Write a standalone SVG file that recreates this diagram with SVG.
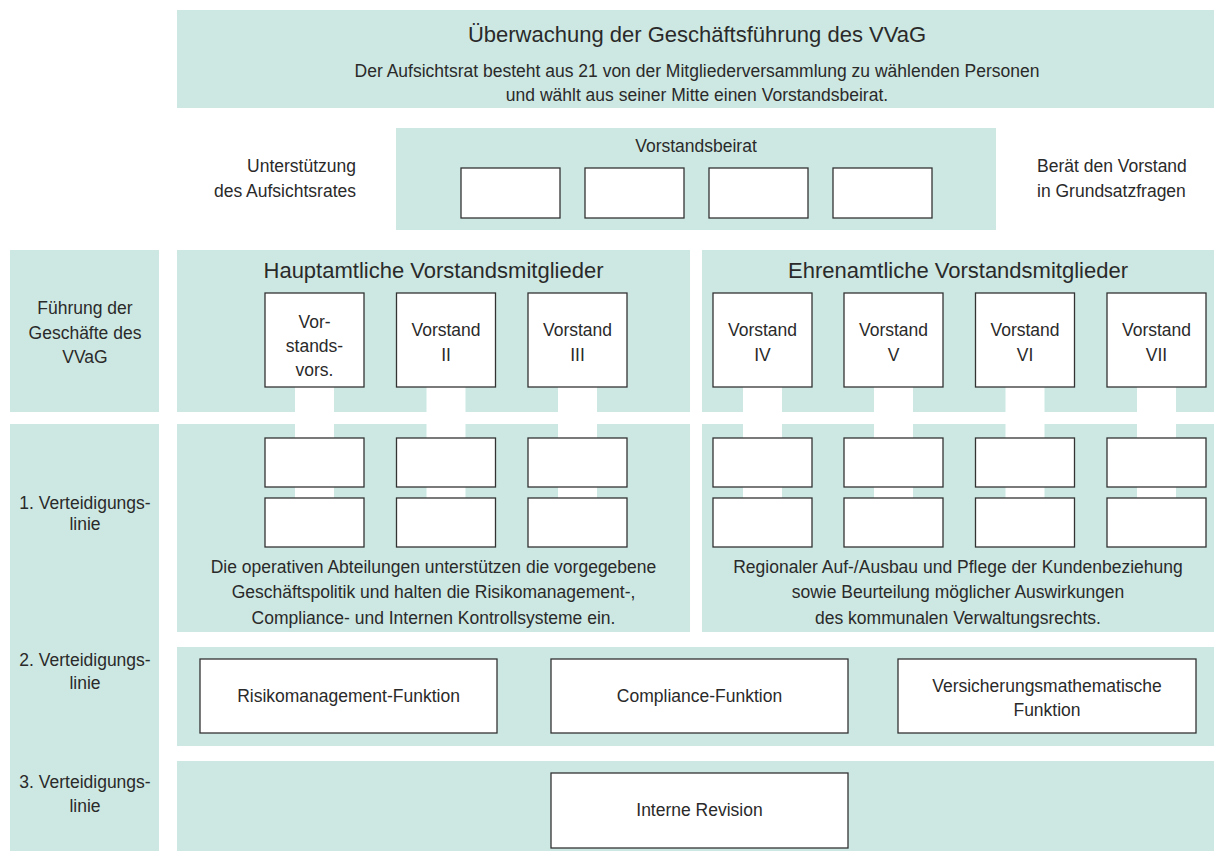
<svg xmlns="http://www.w3.org/2000/svg" width="1214" height="851" viewBox="0 0 1214 851">
<style>
.bg{fill:#cde8e2}
.bx{fill:#fff;stroke:#333;stroke-width:1.3}
.cn{fill:#fff}
text{font-family:"Liberation Sans",Arial,sans-serif;fill:#2a2a2a;text-anchor:middle}
.t1{font-size:22px}
.t2{font-size:17.5px}
.l{text-anchor:end}
.r{text-anchor:start}
</style>
<rect width="1214" height="851" fill="#fff"/>
<g id="panels">
<rect class="bg" x="177" y="10" width="1037" height="98"/>
<rect class="bg" x="396" y="128" width="600" height="102"/>
<rect class="bg" x="10" y="250" width="149" height="162"/>
<rect class="bg" x="177" y="250" width="513" height="162"/>
<rect class="bg" x="702" y="250" width="512" height="162"/>
<rect class="bg" x="10" y="424" width="149" height="427"/>
<rect class="bg" x="177" y="424" width="513" height="208"/>
<rect class="bg" x="702" y="424" width="512" height="208"/>
<rect class="bg" x="177" y="647" width="1037" height="99"/>
<rect class="bg" x="177" y="761" width="1037" height="90"/>
</g>
<g id="connectors">
<rect class="cn" x="295" y="387" width="39" height="111"/>
<rect class="cn" x="426.5" y="387" width="39" height="111"/>
<rect class="cn" x="558" y="387" width="39" height="111"/>
<rect class="cn" x="743" y="387" width="39" height="111"/>
<rect class="cn" x="874" y="387" width="39" height="111"/>
<rect class="cn" x="1005.5" y="387" width="39" height="111"/>
<rect class="cn" x="1137" y="387" width="39" height="111"/>
</g>
<g id="header">
<text class="t1" x="697" y="42">Überwachung der Geschäftsführung des VVaG</text>
<text class="t2" x="697" y="77">Der Aufsichtsrat besteht aus 21 von der Mitgliederversammlung zu wählenden Personen</text>
<text class="t2" x="697" y="101">und wählt aus seiner Mitte einen Vorstandsbeirat.</text>
</g>
<g id="label-unterstuetzung">
<text class="t2 l" x="356" y="172">Unterstützung</text>
<text class="t2 l" x="356" y="197">des Aufsichtsrates</text>
</g>
<g id="label-beraet">
<text class="t2 r" x="1037" y="172">Berät den Vorstand</text>
<text class="t2 r" x="1037" y="197">in Grundsatzfragen</text>
</g>
<g id="vorstandsbeirat">
<text class="t2" x="696" y="152">Vorstandsbeirat</text>
<rect class="bx" x="461" y="168" width="99" height="50"/>
<rect class="bx" x="585" y="168" width="99" height="50"/>
<rect class="bx" x="709" y="168" width="99" height="50"/>
<rect class="bx" x="833" y="168" width="99" height="50"/>
</g>
<g id="label-fuehrung">
<text class="t2" x="85" y="314">Führung der</text>
<text class="t2" x="85" y="339">Geschäfte des</text>
<text class="t2" x="85" y="363">VVaG</text>
</g>
<g id="hauptamtliche">
<text class="t1" x="433.5" y="278">Hauptamtliche Vorstandsmitglieder</text>
</g>
<g id="ehrenamtliche">
<text class="t1" x="958" y="278">Ehrenamtliche Vorstandsmitglieder</text>
</g>
<g id="vorstand-1">
<rect class="bx" x="265" y="293" width="99" height="94"/>
<text class="t2" x="314.5" y="328">Vor-</text>
<text class="t2" x="314.5" y="352">stands-</text>
<text class="t2" x="314.5" y="376">vors.</text>
</g>
<g id="vorstand-2">
<rect class="bx" x="396.5" y="293" width="99" height="94"/>
<text class="t2" x="446" y="336">Vorstand</text>
<text class="t2" x="446" y="361">II</text>
</g>
<g id="vorstand-3">
<rect class="bx" x="528" y="293" width="99" height="94"/>
<text class="t2" x="577.5" y="336">Vorstand</text>
<text class="t2" x="577.5" y="361">III</text>
</g>
<g id="vorstand-4">
<rect class="bx" x="713" y="293" width="99" height="94"/>
<text class="t2" x="762.5" y="336">Vorstand</text>
<text class="t2" x="762.5" y="361">IV</text>
</g>
<g id="vorstand-5">
<rect class="bx" x="844" y="293" width="99" height="94"/>
<text class="t2" x="893.5" y="336">Vorstand</text>
<text class="t2" x="893.5" y="361">V</text>
</g>
<g id="vorstand-6">
<rect class="bx" x="975.5" y="293" width="99" height="94"/>
<text class="t2" x="1025" y="336">Vorstand</text>
<text class="t2" x="1025" y="361">VI</text>
</g>
<g id="vorstand-7">
<rect class="bx" x="1107" y="293" width="99" height="94"/>
<text class="t2" x="1156.5" y="336">Vorstand</text>
<text class="t2" x="1156.5" y="361">VII</text>
</g>
<g id="label-linie1">
<text class="t2" x="85" y="509">1. Verteidigungs-</text>
<text class="t2" x="85" y="530">linie</text>
</g>
<g id="abteilungen-haupt">
<rect class="bx" x="265" y="438" width="99" height="49"/>
<rect class="bx" x="396.5" y="438" width="99" height="49"/>
<rect class="bx" x="528" y="438" width="99" height="49"/>
<rect class="bx" x="265" y="498" width="99" height="49"/>
<rect class="bx" x="396.5" y="498" width="99" height="49"/>
<rect class="bx" x="528" y="498" width="99" height="49"/>
<text class="t2" x="433.5" y="573">Die operativen Abteilungen unterstützen die vorgegebene</text>
<text class="t2" x="433.5" y="598">Geschäftspolitik und halten die Risikomanagement-,</text>
<text class="t2" x="433.5" y="624">Compliance- und Internen Kontrollsysteme ein.</text>
</g>
<g id="abteilungen-ehren">
<rect class="bx" x="713" y="438" width="99" height="49"/>
<rect class="bx" x="844" y="438" width="99" height="49"/>
<rect class="bx" x="975.5" y="438" width="99" height="49"/>
<rect class="bx" x="1107" y="438" width="99" height="49"/>
<rect class="bx" x="713" y="498" width="99" height="49"/>
<rect class="bx" x="844" y="498" width="99" height="49"/>
<rect class="bx" x="975.5" y="498" width="99" height="49"/>
<rect class="bx" x="1107" y="498" width="99" height="49"/>
<text class="t2" x="958" y="573">Regionaler Auf-/Ausbau und Pflege der Kundenbeziehung</text>
<text class="t2" x="958" y="598">sowie Beurteilung möglicher Auswirkungen</text>
<text class="t2" x="958" y="624">des kommunalen Verwaltungsrechts.</text>
</g>
<g id="label-linie2">
<text class="t2" x="85" y="666">2. Verteidigungs-</text>
<text class="t2" x="85" y="689">linie</text>
</g>
<g id="risikomanagement">
<rect class="bx" x="200" y="659" width="297" height="74"/>
<text class="t2" x="348.5" y="702">Risikomanagement-Funktion</text>
</g>
<g id="compliance">
<rect class="bx" x="551" y="659" width="297" height="74"/>
<text class="t2" x="699.5" y="702">Compliance-Funktion</text>
</g>
<g id="versicherungsmathematik">
<rect class="bx" x="898" y="659" width="298" height="74"/>
<text class="t2" x="1047" y="692">Versicherungsmathematische</text>
<text class="t2" x="1047" y="716">Funktion</text>
</g>
<g id="label-linie3">
<text class="t2" x="85" y="788">3. Verteidigungs-</text>
<text class="t2" x="85" y="812">linie</text>
</g>
<g id="interne-revision">
<rect class="bx" x="551" y="773" width="297" height="75"/>
<text class="t2" x="699.5" y="816">Interne Revision</text>
</g>
</svg>
